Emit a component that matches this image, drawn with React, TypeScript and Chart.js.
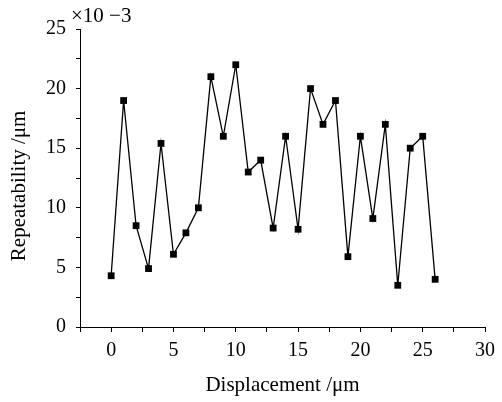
import React, { useEffect, useRef } from "react";
import { Chart, registerables } from "chart.js";

Chart.register(...registerables);

const displacement = [0, 1, 2, 3, 4, 5, 6, 7, 8, 9, 10, 11, 12, 13, 14, 15, 16, 17, 18, 19, 20, 21, 22, 23, 24, 25, 26];
const repeatability = [4.3, 19, 8.5, 4.9, 15.4, 6.1, 7.9, 10, 21, 16, 22, 13, 14, 8.3, 16, 8.2, 20, 17, 19, 5.9, 16, 9.1, 17, 3.5, 15, 16, 4];
const xTitle = "Displacement /\u03bcm";
const yTitle = "Repeatability /\u03bcm   ";
const exponentLabel = "\u00d710 \u22123";

const FONT = "'Liberation Serif', 'Times New Roman', serif";

const exponentPlugin = {
  id: "exponentLabel",
  afterDraw(chart: any) {
    const ctx = chart.ctx;
    ctx.save();
    ctx.font = `21px ${FONT}`;
    ctx.fillStyle = "#000";
    ctx.textAlign = "left";
    ctx.textBaseline = "alphabetic";
    ctx.fillText(exponentLabel, chart.chartArea.left - 9, 22);
    ctx.restore();
  },
};

export default function App() {
  const ref = useRef<HTMLCanvasElement | null>(null);
  useEffect(() => {
    if (!ref.current) return;
    const chart = new Chart(ref.current, {
      type: "scatter",
      data: {
        datasets: [
          {
            data: displacement.map((x, i) => ({ x, y: repeatability[i] })),
            showLine: true,
            borderColor: "#000",
            backgroundColor: "#000",
            borderWidth: 1.3,
            pointStyle: "rect",
            pointRadius: 4.8,
            pointBorderWidth: 0,
            pointBackgroundColor: "#000",
          },
        ],
      },
      options: {
        responsive: false,
        animation: false,
        events: [],
        layout: { padding: { top: 29, right: 17, left: 0, bottom: 0 } },
        plugins: { legend: { display: false }, tooltip: { enabled: false } },
        scales: {
          x: {
            type: "linear",
            min: -2.5,
            max: 30,
            afterFit: (s: any) => { s.height = 75; },
            border: { display: true, color: "#000", width: 1 },
            grid: { display: true, drawOnChartArea: false, drawTicks: true, tickLength: 5, color: "#000" },
            ticks: {
              stepSize: 2.5,
              autoSkip: false,
              maxRotation: 0,
              padding: 7,
              color: "#000",
              font: { family: FONT, size: 20 },
              callback: (v: any) => (Math.abs(Number(v) % 5) < 1e-6 && Number(v) >= 0 ? String(v) : ""),
            },
            title: {
              display: true,
              text: xTitle,
              color: "#000",
              font: { family: FONT, size: 21 },
              padding: { top: 0, bottom: 4 },
            },
          },
          y: {
            type: "linear",
            min: 0,
            max: 25,
            afterFit: (s: any) => { s.width = 80; },
            border: { display: true, color: "#000", width: 1 },
            grid: { display: true, drawOnChartArea: false, drawTicks: true, tickLength: 4, color: "#000" },
            ticks: {
              stepSize: 2.5,
              autoSkip: false,
              padding: 10,
              color: "#000",
              font: { family: FONT, size: 20 },
              callback: (v: any) => (Math.abs(Number(v) % 5) < 1e-6 ? String(v) : ""),
            },
            title: {
              display: true,
              text: yTitle,
              color: "#000",
              font: { family: FONT, size: 21 },
              padding: { top: 7, bottom: 0 },
            },
          },
        },
      },
      plugins: [exponentPlugin],
    } as any);
    return () => chart.destroy();
  }, []);
  return (
    <div style={{ position: "fixed", left: 0, top: 0, width: 502, height: 402, background: "#fff" }}>
      <canvas ref={ref} width={502} height={402} style={{ display: "block" }} />
    </div>
  );
}
